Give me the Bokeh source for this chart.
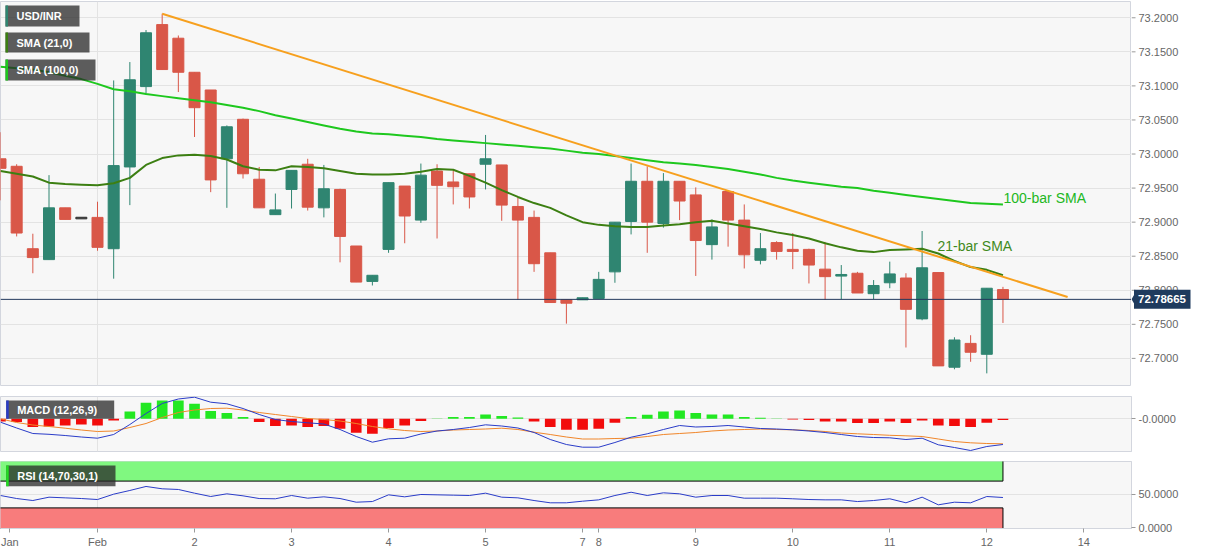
from bokeh.plotting import figure
from bokeh.layouts import column, row
from bokeh.models import Range1d, FixedTicker, NumeralTickFormatter, Span, Label, ColumnDataSource
from bokeh.core.properties import value
from bokeh.embed import file_html
from bokeh.resources import INLINE

# ---------------- data ----------------
bars = list(range(-6, 57))  # 4-hour bars, 0 = Feb 1 00:00

opens = [72.993, 72.982, 72.861, 72.845, 72.921, 72.906, 72.907, 72.861, 72.981, 73.099,
         73.190, 73.170, 73.120, 73.094, 72.993, 73.051, 72.963, 72.911, 72.948, 72.985,
         72.921, 72.948, 72.865, 72.813, 72.860, 72.953, 72.903, 72.975, 72.959, 72.971,
         72.985, 72.984, 72.923, 72.907, 72.855, 72.786, 72.786, 72.788, 72.827, 72.901,
         72.960, 72.898, 72.960, 72.940, 72.867, 72.945, 72.903, 72.844, 72.870, 72.860,
         72.860, 72.831, 72.821, 72.825, 72.795, 72.811, 72.818, 72.758, 72.826, 72.687,
         72.722, 72.706, 72.801]
highs = [73.032, 72.985, 72.883, 72.969, 72.921, 72.906, 72.930, 73.108, 73.135, 73.182,
         73.206, 73.174, 73.120, 73.094, 73.042, 73.052, 72.981, 72.942, 72.976, 72.993,
         72.984, 72.949, 72.865, 72.822, 72.958, 72.953, 72.986, 72.985, 72.976, 72.971,
         73.028, 72.984, 72.936, 72.917, 72.855, 72.786, 72.789, 72.827, 72.900, 72.986,
         72.982, 72.972, 72.960, 72.951, 72.904, 72.945, 72.926, 72.884, 72.872, 72.884,
         72.861, 72.871, 72.837, 72.827, 72.815, 72.842, 72.825, 72.887, 72.826, 72.731,
         72.734, 72.803, 72.805]
lows = [72.932, 72.879, 72.825, 72.845, 72.904, 72.906, 72.858, 72.817, 72.925, 73.087,
        73.124, 73.091, 73.025, 72.944, 72.921, 72.964, 72.921, 72.911, 72.920, 72.917,
        72.907, 72.841, 72.812, 72.807, 72.855, 72.869, 72.899, 72.876, 72.926, 72.920,
        72.948, 72.902, 72.786, 72.827, 72.782, 72.751, 72.786, 72.788, 72.811, 72.882,
        72.855, 72.892, 72.903, 72.821, 72.845, 72.864, 72.832, 72.838, 72.845, 72.831,
        72.810, 72.786, 72.787, 72.796, 72.787, 72.803, 72.716, 72.756, 72.689, 72.684,
        72.695, 72.678, 72.752]
closes = [72.979, 72.884, 72.848, 72.921, 72.904, 72.906, 72.863, 72.983, 73.109, 73.178,
          73.124, 73.120, 73.068, 72.962, 73.040, 72.971, 72.921, 72.918, 72.976, 72.922,
          72.949, 72.879, 72.812, 72.822, 72.958, 72.909, 72.969, 72.954, 72.952, 72.937,
          72.993, 72.925, 72.903, 72.839, 72.782, 72.781, 72.789, 72.816, 72.900, 72.960,
          72.900, 72.960, 72.931, 72.873, 72.893, 72.903, 72.852, 72.861, 72.857, 72.857,
          72.837, 72.820, 72.823, 72.796, 72.807, 72.824, 72.772, 72.833, 72.689, 72.727,
          72.709, 72.803, 72.78665]

sma21 = [72.975, 72.971, 72.967, 72.958, 72.956, 72.955, 72.954, 72.957, 72.965, 72.984,
         72.994, 72.998, 72.999, 72.997, 72.992, 72.982, 72.977, 72.976, 72.982, 72.981,
         72.979, 72.975, 72.971, 72.970, 72.970, 72.971, 72.974, 72.978, 72.977, 72.968,
         72.958, 72.947, 72.937, 72.928, 72.921, 72.910, 72.900, 72.896, 72.894, 72.893,
         72.893, 72.895, 72.897, 72.900, 72.902, 72.898, 72.894, 72.890, 72.885, 72.881,
         72.876, 72.869, 72.863, 72.858, 72.856, 72.859, 72.860, 72.861, 72.854, 72.843,
         72.834, 72.830, 72.822]
sma100 = [73.128, 73.126, 73.124, 73.120, 73.115, 73.110, 73.103, 73.095, 73.092, 73.088,
          73.085, 73.082, 73.079, 73.076, 73.072, 73.068, 73.063, 73.057, 73.052, 73.047,
          73.042, 73.037, 73.033, 73.030, 73.029, 73.027, 73.025, 73.022, 73.020, 73.018,
          73.016, 73.014, 73.012, 73.010, 73.008, 73.005, 73.002, 73.000, 72.997, 72.994,
          72.991, 72.988, 72.986, 72.984, 72.981, 72.978, 72.974, 72.970, 72.965, 72.961,
          72.958, 72.955, 72.952, 72.950, 72.946, 72.943, 72.940, 72.937, 72.934, 72.931,
          72.928, 72.927, 72.926]

trend_x = [4, 60]
trend_y = [73.206, 72.790]
last_price = 72.78665

macd_line = [-0.0034, -0.0092, -0.0147, -0.0155, -0.0167, -0.0182, -0.0194, -0.0157, -0.0057, 0.0053,
             0.0153, 0.0198, 0.0216, 0.0166, 0.0150, 0.0103, 0.0043, -0.0007, -0.0027, -0.0040,
             -0.0052, -0.0107, -0.0177, -0.0234, -0.0200, -0.0194, -0.0152, -0.0122, -0.0107, -0.0087,
             -0.0060, -0.0072, -0.0092, -0.0137, -0.0207, -0.0257, -0.0284, -0.0284, -0.0237, -0.0184,
             -0.0150, -0.0107, -0.0067, -0.0082, -0.0077, -0.0067, -0.0082, -0.0097, -0.0102, -0.0110,
             -0.0122, -0.0137, -0.0157, -0.0177, -0.0187, -0.0190, -0.0207, -0.0194, -0.0260, -0.0287,
             -0.0317, -0.0277, -0.0257]
macd_signal = [0.0000, -0.0037, -0.0062, -0.0077, -0.0094, -0.0112, -0.0127, -0.0122, -0.0087, -0.0047,
               0.0013, 0.0063, 0.0088, 0.0103, 0.0106, 0.0088, 0.0063, 0.0043, 0.0023, 0.0003,
               -0.0007, -0.0022, -0.0047, -0.0077, -0.0100, -0.0117, -0.0127, -0.0122, -0.0112, -0.0107,
               -0.0102, -0.0094, -0.0107, -0.0134, -0.0157, -0.0182, -0.0202, -0.0202, -0.0197, -0.0194,
               -0.0177, -0.0157, -0.0147, -0.0137, -0.0122, -0.0112, -0.0107, -0.0102, -0.0107, -0.0110,
               -0.0117, -0.0127, -0.0142, -0.0150, -0.0157, -0.0165, -0.0170, -0.0177, -0.0202, -0.0227,
               -0.0240, -0.0247, -0.0250]
macd_hist = [-0.0027, -0.0033, -0.0083, -0.0077, -0.0067, -0.0057, -0.0067, -0.0017, 0.0073, 0.0160,
             0.0183, 0.0183, 0.0150, 0.0077, 0.0057, 0.0017, -0.0033, -0.0073, -0.0067, -0.0083,
             -0.0073, -0.0100, -0.0140, -0.0150, -0.0093, -0.0067, -0.0023, 0.0003, 0.0017, 0.0017,
             0.0043, 0.0027, 0.0013, -0.0027, -0.0083, -0.0110, -0.0110, -0.0100, -0.0040, 0.0017,
             0.0040, 0.0073, 0.0083, 0.0057, 0.0043, 0.0043, 0.0017, 0.0010, 0.0002, -0.0007,
             -0.0013, -0.0027, -0.0027, -0.0043, -0.0043, -0.0027, -0.0043, -0.0017, -0.0067, -0.0073,
             -0.0083, -0.0040, -0.0013]
rsi = [48.5, 44, 41, 46, 45, 44, 42.5, 50.5, 56, 62,
       58.5, 57.5, 52, 47, 51, 48, 44, 43.6, 48.5, 44.5,
       46.5, 44, 38.5, 39.5, 49.5, 46.5, 50, 49.5, 49, 48.5,
       52, 46, 45, 41, 37.6, 37.6, 40, 42, 48.5, 53.4,
       48.5, 52.5, 51, 46, 48.5, 48.5, 44.5, 44.5, 44.5, 43.6,
       42.5, 42, 42, 39.5, 41, 43.6, 37.6, 46, 34.6, 38.5,
       37.6, 47, 45.5]
rsi_upper = 70
rsi_lower = 30

x_tick_pos = [-5.42, 0, 6, 12, 18, 24, 30, 31, 37, 43, 49, 55, 61]
x_tick_labels = ["Jan", "Feb", "2", "3", "4", "5", "7", "8", "9", "10", "11", "12", "14"]
price_ticks = [72.70, 72.75, 72.80, 72.85, 72.90, 72.95, 73.00, 73.05, 73.10, 73.15, 73.20]

# ---------------- styling / layout ----------------
W = 1207
FRAME_W = 1131
RIGHT = W - FRAME_W
BG = "#f7f7f7"
FRAME_COL = "#d3d6de"
GRID_COL = "#e3e3e3"
FONT = "Liberation Sans"
UP = "#2f8571"
DOWN = "#d95748"
TAG = "#1f3b5e"

x_range = Range1d(-6.0, 63.95)


def mx(px):
    return x_range.start + px * (x_range.end - x_range.start) / FRAME_W


def style_axis(ax):
    ax.axis_line_color = FRAME_COL
    ax.major_tick_line_color = "#9a9a9a"
    ax.major_tick_out = 4
    ax.major_tick_in = 0
    ax.minor_tick_line_color = None
    ax.major_label_text_font = FONT
    ax.major_label_text_font_size = "11px"
    ax.major_label_text_color = "#666666"
    ax.major_label_standoff = 3


def base_fig(width, height, top, bottom, y_range, right, yaxis=True, xaxis=False):
    p = figure(width=width, height=height, x_range=x_range, y_range=y_range,
               output_backend="svg", toolbar_location=None,
               x_axis_location="below" if xaxis else None,
               y_axis_location="right" if yaxis else None,
               min_border_left=0, min_border_right=right, min_border_top=top,
               min_border_bottom=bottom, background_fill_color=BG,
               border_fill_color="white", outline_line_color=FRAME_COL)
    if yaxis:
        style_axis(p.yaxis[0])
    p.ygrid.grid_line_color = GRID_COL
    p.xgrid.ticker = FixedTicker(ticks=[0])
    p.xgrid.grid_line_color = GRID_COL
    return p


def tag(p, ymap, x0, x1, y0, y1, text, stripe):
    p.quad(left=[mx(x0)], right=[mx(x1)], top=[ymap(y0)], bottom=[ymap(y1)],
           fill_color="#282828", fill_alpha=0.75, line_color=None)
    p.quad(left=[mx(x0)], right=[mx(x0 + 2.5)], top=[ymap(y0)], bottom=[ymap(y1)],
           fill_color=stripe, line_color=None)
    p.add_layout(Label(x=mx(x0 + 11), y=ymap((y0 + y1) / 2), text=text,
                       text_font=FONT, text_font_size="11px", text_font_style="bold",
                       text_color="white", text_baseline="middle", text_align="left"))


# ---------------- main price panel ----------------
MAIN_TOP, MAIN_H = 1, 384
y_main = Range1d(72.6602, 73.2239)
PX = (y_main.end - y_main.start) / MAIN_H  # price per pixel


def my(py):
    return y_main.end - (py - MAIN_TOP) * PX


p1 = base_fig(FRAME_W, 390, MAIN_TOP, 5, y_main, 0, yaxis=False)
p1.ygrid.ticker = FixedTicker(ticks=price_ticks)

min_h = 1.6 * PX
colors, tops, bots = [], [], []
for o, c in zip(opens, closes):
    colors.append(UP if c > o else (DOWN if c < o else "#333333"))
    t, b = max(o, c), min(o, c)
    if t - b < min_h:
        mid = (t + b) / 2
        t, b = mid + min_h / 2, mid - min_h / 2
    tops.append(t)
    bots.append(b)

src = ColumnDataSource(dict(x=bars, o=opens, h=highs, l=lows, c=closes,
                            top=tops, bot=bots, col=colors, s21=sma21, s100=sma100))
p1.segment(x0="x", y0="l", x1="x", y1="h", color="col", line_width=1, source=src)
p1.vbar(x="x", width=0.68, top="top", bottom="bot", fill_color="col", line_color="col",
        line_width=1, source=src)
p1.line("x", "s100", color="#1ec81e", line_width=2, source=src)
p1.line("x", "s21", color="#3c7f12", line_width=2, source=src)
p1.line(trend_x, trend_y, color="#f7a01e", line_width=2)

p1.add_layout(Span(location=last_price, dimension="width", line_color="#22385c", line_width=1))

p1.add_layout(Label(x=mx(1003), y=my(197), text="100-bar SMA", text_font=FONT,
                    text_font_size="14px", text_color="#22b822", text_baseline="middle"))
p1.add_layout(Label(x=mx(937), y=my(245), text="21-bar SMA", text_font=FONT,
                    text_font_size="14px", text_color="#3f8a1c", text_baseline="middle"))

tag(p1, my, 5, 79, 5, 26, "USD/INR", "#2f8571")
tag(p1, my, 5, 89, 32, 52, "SMA (21,0)", "#3c7f12")
tag(p1, my, 5, 95, 59, 80, "SMA (100,0)", "#1ec81e")

# right-hand price scale of the main panel (separate strip so the price tag can sit in it)
p1r = figure(width=RIGHT, height=390, x_range=Range1d(0, RIGHT), y_range=y_main,
             output_backend="svg", toolbar_location=None,
             x_axis_location=None, y_axis_location=None,
             min_border_left=0, min_border_right=0, min_border_top=MAIN_TOP,
             min_border_bottom=5, background_fill_color="white",
             border_fill_color="white", outline_line_color=None)
p1r.xgrid.visible = False
p1r.ygrid.visible = False
p1r.segment(x0=0, x1=4, y0=price_ticks, y1=price_ticks, line_color="#9a9a9a", line_width=1)
p1r.text(x=7, y=price_ticks, text=[f"{v:.4f}" for v in price_ticks],
         text_font=value(FONT), text_font_size=value("11px"), text_color="#666666",
         text_baseline="middle", text_align="left")
p1r.quad(left=[2.5], right=[59], top=[last_price + 9.5 * PX], bottom=[last_price - 9.5 * PX],
         fill_color=TAG, line_color=None)
p1r.patch([0, 3, 3], [last_price, last_price + 5 * PX, last_price - 5 * PX],
          fill_color=TAG, line_color=None)
p1r.text(x=[6.5], y=[last_price], text=[f"{last_price:.5f}"],
         text_font=value(FONT), text_font_size=value("11.5px"), text_font_style="bold",
         text_color="white", text_baseline="middle", text_align="left")

# ---------------- MACD panel ----------------
M_TOP, M_H = 6, 55
y_macd = Range1d(-0.0327, 0.0223)


def mm(py):
    return y_macd.end - (py - (390 + M_TOP)) * (y_macd.end - y_macd.start) / M_H


p2 = base_fig(W, 66, M_TOP, 5, y_macd, RIGHT)
p2.yaxis[0].ticker = FixedTicker(ticks=[0])
p2.yaxis[0].major_label_overrides = {0: "-0.0000"}
hist_col = ["#22e822" if v >= 0 else "#f20c0c" for v in macd_hist]
p2.vbar(x=bars, width=0.66, top=macd_hist, bottom=0, fill_color=hist_col, line_color=None)
p2.line(bars, macd_signal, color="#f0862a", line_width=1)
p2.line(bars, macd_line, color="#2a3cc8", line_width=1)
tag(p2, mm, 5.7, 113.7, 400, 418.3, "MACD (12,26,9)", "#2a3cc8")

# ---------------- RSI panel ----------------
R_TOP, R_H = 5, 67
y_rsi = Range1d(-0.75, 99.25)


def mr(py):
    return y_rsi.end - (py - (456 + R_TOP)) * (y_rsi.end - y_rsi.start) / R_H


p3 = base_fig(W, 99, R_TOP, 27, y_rsi, RIGHT, xaxis=True)
p3.yaxis[0].ticker = FixedTicker(ticks=[0, 50])
p3.yaxis[0].formatter = NumeralTickFormatter(format="0.0000")
p3.ygrid.ticker = FixedTicker(ticks=[50])
p3.quad(left=[-7], right=[bars[-1]], bottom=[rsi_upper], top=[101],
        fill_color="#80f880", line_color="black", line_width=1)
p3.quad(left=[-7], right=[bars[-1]], bottom=[-1], top=[rsi_lower],
        fill_color="#f87c7c", line_color="black", line_width=1)
p3.line(bars, rsi, color="#2a3cc8", line_width=1)
tag(p3, mr, 5.7, 115, 465, 485.7, "RSI (14,70,30,1)", "#22dd22")

xa = p3.xaxis[0]
style_axis(xa)
xa.ticker = FixedTicker(ticks=x_tick_pos)
xa.major_label_overrides = {k: v for k, v in zip(x_tick_pos, x_tick_labels)}

layout = column(row(p1, p1r, spacing=0), p2, p3, spacing=0)

open("out.html", "w").write(file_html(layout, INLINE))
